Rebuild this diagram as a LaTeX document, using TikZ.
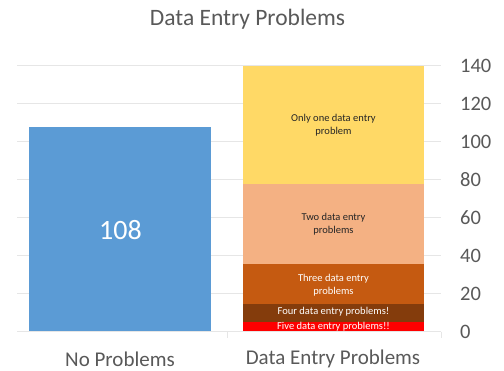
\documentclass[tikz,border=0pt]{standalone}
\usepackage{fontspec}
\setmainfont{Carlito}
\definecolor{txtgrey}{HTML}{595959}
\definecolor{gridgrey}{HTML}{E6E6E6}
\definecolor{barblue}{HTML}{5B9BD5}
\definecolor{segyellow}{HTML}{FFD966}
\definecolor{segsalmon}{HTML}{F4B183}
\definecolor{segorange}{HTML}{C55A11}
\definecolor{segbrown}{HTML}{843C0C}
\definecolor{segred}{HTML}{FF0000}
\begin{document}
\begin{tikzpicture}[x=1pt,y=-1pt,
  gridline/.style={draw=gridgrey,line width=1pt},
  axislbl/.style={text=txtgrey,font=\fontsize{20.5}{24}\selectfont,anchor=west,inner sep=0pt},
  catlbl/.style={text=txtgrey,font=\fontsize{21}{24}\selectfont,inner sep=0pt},
  seglbl/.style={font=\fontsize{10.5}{13}\selectfont,align=center,inner sep=0pt}]
\useasboundingbox (0,0) rectangle (504,371);
\fill[white] (0,0) rectangle (504,371);
% gridlines
\foreach \v in {20,40,...,140}{
  \draw[gridline] (17,{332-1.9*\v}) -- (441,{332-1.9*\v});
}
% bars
\fill[barblue] (29.3,126.8) rectangle (211,332);
\fill[segyellow] (243,66) rectangle (424,184);
\fill[segsalmon] (243,184) rectangle (424,264);
\fill[segorange] (243,264) rectangle (424,304);
\fill[segbrown] (243,304) rectangle (424,322.5);
\fill[segred] (243,322.5) rectangle (424,332);
% axis
\draw[gridline] (17,332) -- (441,332);
\draw[gridline] (227,332) -- (227,338);
\draw[gridline] (441,332) -- (441,338);
% axis labels
\foreach \v in {0,20,...,140}{
  \node[axislbl] (y\v) at (460,{332-1.9*\v}) {\v};
}
% title
\node[text=txtgrey,font=\fontsize{23.5}{26}\selectfont,inner sep=0pt] (title) at (247.5,19) {Data Entry Problems};
% categories
\node[catlbl] (c1) at (120,359) {No Problems};
\node[catlbl] (c2) at (333,359) {Data Entry Problems};
% labels
\node[text=white,font=\fontsize{28}{30}\selectfont,inner sep=0pt] (v108) at (120.5,230) {108};
\node[seglbl,text=black!85] (s1) at (333.5,125.5) {Only one data entry\\problem};
\node[seglbl,text=black!85] (s2) at (333.5,224) {Two data entry\\problems};
\node[seglbl,text=white] (s3) at (333.5,285) {Three data entry\\problems};
\node[seglbl,text=white] (s4) at (333.5,311.5) {Four data entry problems!};
\node[seglbl,text=white] (s5) at (333.5,327) {Five data entry problems!!};
\end{tikzpicture}
\end{document}
